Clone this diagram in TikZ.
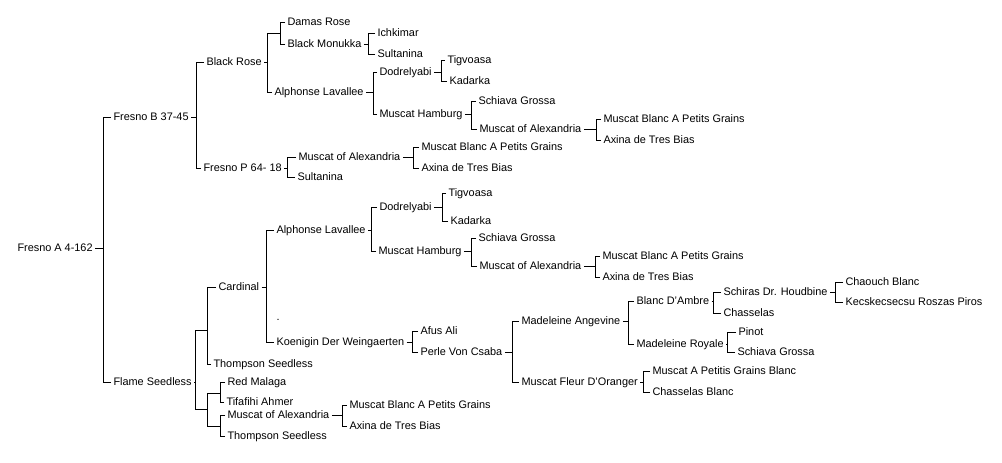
\documentclass[tikz,border=0pt]{standalone}
\usepackage{fontspec}
\setmainfont{Liberation Sans}
\newcommand{\parents}[5]{\coordinate (#2) at (#3,0 |- #1);
 \draw (#1) -- (#2) (#4) -| (#2) (#5) -| (#2);}

\begin{document}
\begin{tikzpicture}[x=1pt, y=-1pt, line width=1pt,
 every node/.style={anchor=west, inner xsep=2pt, inner ysep=0pt, text height=9pt, text depth=2pt, font=\fontsize{10.9}{12}\selectfont}]
 \useasboundingbox (0,0) rectangle (1002,463);

 \node (fa) at (15,248) {Fresno A 4-162};
 \node (fb) at (111,117) {Fresno B 37-45};
 \node (fs) at (111,382) {Flame Seedless};
 % Fresno B 37-45
 \node (br) at (204,62) {Black Rose};
 \node (fp) at (201,168) {Fresno P 64- 18};
 \node (dr) at (285,22) {Damas Rose};
 \node (bm) at (285,44) {Black Monukka};
 \node (ik) at (375,33) {Ichkimar};
 \node (su1) at (375,54) {Sultanina};
 \node (al1) at (272,92) {Alphonse Lavallee};
 \node (do1) at (377,72) {Dodrelyabi};
 \node (mh1) at (377,114) {Muscat Hamburg};
 \node (tg1) at (445,60) {Tigvoasa};
 \node (ka1) at (447,81) {Kadarka};
 \node (sg1) at (476,101) {Schiava Grossa};
 \node (ma1) at (477,129) {Muscat of Alexandria};
 \node (mb1) at (601,119) {Muscat Blanc A Petits Grains};
 \node (ax1) at (601,140) {Axina de Tres Bias};
 \node (ma2) at (296,157) {Muscat of Alexandria};
 \node (su2) at (295,177) {Sultanina};
 \node (mb2) at (419,147) {Muscat Blanc A Petits Grains};
 \node (ax2) at (419,168) {Axina de Tres Bias};
 % Flame Seedless
 \node (cd) at (216,287) {Cardinal};
 \node (ts1) at (211,364) {Thompson Seedless};
 \node (rm) at (225,382) {Red Malaga};
 \node (ta) at (224,402) {Tifafihi Ahmer};
 \node (ma4) at (225,415) {Muscat of Alexandria};
 \node (ts2) at (225,436) {Thompson Seedless};
 \node (mb4) at (347,405) {Muscat Blanc A Petits Grains};
 \node (ax4) at (347,426) {Axina de Tres Bias};
 \node (al2) at (274,230) {Alphonse Lavallee};
 \node (dt) at (274,317) {.};
 \node (kw) at (274,342) {Koenigin Der Weingaerten};
 \node (do2) at (377,207) {Dodrelyabi};
 \node (mh2) at (376,251) {Muscat Hamburg};
 \node (tg2) at (446,193) {Tigvoasa};
 \node (ka2) at (448,221) {Kadarka};
 \node (sg2) at (476,238) {Schiava Grossa};
 \node (ma3) at (477,266) {Muscat of Alexandria};
 \node (mb3) at (600,256) {Muscat Blanc A Petits Grains};
 \node (ax3) at (600,277) {Axina de Tres Bias};
 \node (af) at (418,331) {Afus Ali};
 \node (pv) at (418,352) {Perle Von Csaba};
 \node (mg) at (519,321) {Madeleine Angevine};
 \node (mf) at (519,382) {Muscat Fleur D'Oranger};
 \node (ba) at (634,301) {Blanc D'Ambre};
 \node (mr) at (634,344) {Madeleine Royale};
 \node (sd) at (721,292) {Schiras Dr. Houdbine};
 \node (ch) at (721,313) {Chasselas};
 \node (cb) at (843,282) {Chaouch Blanc};
 \node (kr) at (843,302) {Kecskecsecsu Roszas Piros};
 \node (pi) at (736,332) {Pinot};
 \node (sg3) at (735,352) {Schiava Grossa};
 \node (mp) at (650,371) {Muscat A Petitis Grains Blanc};
 \node (cl) at (650,392) {Chasselas Blanc};

 \coordinate (u1) at (267,33);
 \coordinate (u2) at (195,330);
 \coordinate (u3) at (195,409);
 \coordinate (u4) at (207,393);
 \coordinate (u5) at (207,426);

 \parents{fa.east}{fa-j}{103}{fb.west}{fs.west}
 \parents{fb.east}{fb-j}{196}{br.west}{fp.west}
 \parents{br.east}{br-j}{267}{u1}{al1.west}
 \parents{u1}{u1-j}{280}{dr.west}{bm.west}
 \parents{bm.east}{bm-j}{368}{ik.west}{su1.west}
 \parents{al1.east}{al1-j}{373}{do1.west}{mh1.west}
 \parents{do1.east}{do1-j}{441}{tg1.west}{ka1.west}
 \parents{mh1.east}{mh1-j}{471}{sg1.west}{ma1.west}
 \parents{ma1.east}{ma1-j}{596}{mb1.west}{ax1.west}
 \parents{fp.east}{fp-j}{287}{ma2.west}{su2.west}
 \parents{ma2.east}{ma2-j}{413}{mb2.west}{ax2.west}
 \parents{fs.east}{fs-j}{195}{u2}{u3}
 \parents{u2}{u2-j}{207}{cd.west}{ts1.west}
 \parents{u3}{u3-j}{207}{u4}{u5}
 \parents{u4}{u4-j}{220}{rm.west}{ta.west}
 \parents{u5}{u5-j}{220}{ma4.west}{ts2.west}
 \parents{ma4.east}{ma4-j}{342}{mb4.west}{ax4.west}
 \parents{cd.east}{cd-j}{266}{al2.west}{kw.west}
 \parents{al2.east}{al2-j}{371}{do2.west}{mh2.west}
 \parents{do2.east}{do2-j}{442}{tg2.west}{ka2.west}
 \parents{mh2.east}{mh2-j}{471}{sg2.west}{ma3.west}
 \parents{ma3.east}{ma3-j}{595}{mb3.west}{ax3.west}
 \parents{kw.east}{kw-j}{412}{af.west}{pv.west}
 \parents{pv.east}{pv-j}{512}{mg.west}{mf.west}
 \parents{mg.east}{mg-j}{628}{ba.west}{mr.west}
 \parents{mf.east}{mf-j}{643}{mp.west}{cl.west}
 \parents{ba.east}{ba-j}{713}{sd.west}{ch.west}
 \parents{sd.east}{sd-j}{835}{cb.west}{kr.west}
 \parents{mr.east}{mr-j}{727}{pi.west}{sg3.west}
\end{tikzpicture}
\end{document}
